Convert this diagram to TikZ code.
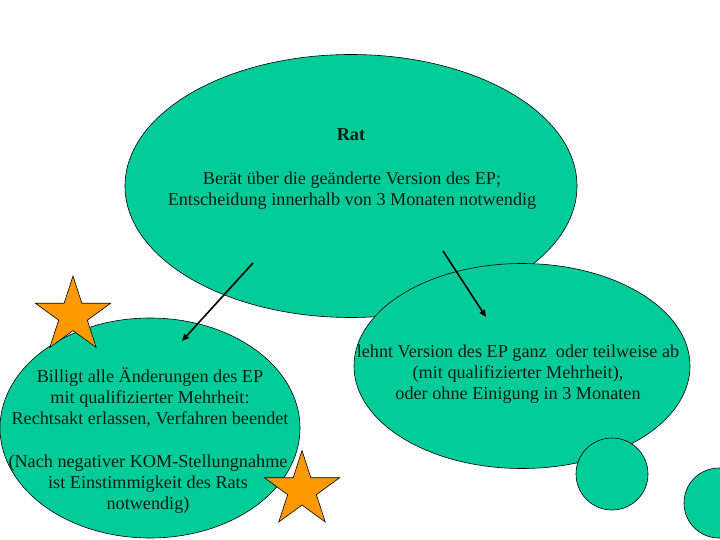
\documentclass[tikz,border=0pt]{standalone}
\usepackage{fontspec}
\setmainfont{Liberation Serif}
\usetikzlibrary{shapes.geometric,arrows.meta}
\definecolor{blobgreen}{RGB}{0,204,153}
\definecolor{starorange}{RGB}{255,153,0}
\definecolor{txtdark}{RGB}{0,30,20}
\tikzset{
  blob/.style={draw=black, line width=0.6pt, fill=blobgreen, inner sep=0pt},
  starshape/.style={star, star points=5, star point ratio=2.618, draw=black, line width=0.6pt, fill=starorange, minimum size=79pt, inner sep=0pt},
  label/.style={text=txtdark, align=center, font=\fontsize{18.2}{20.7}\selectfont, inner sep=0pt},
  flow/.style={draw=black, line width=1.6pt, -{Triangle[length=7pt,width=6pt]}, shorten >=0pt}
}
\begin{document}
\begin{tikzpicture}[x=1pt,y=-1pt]
\useasboundingbox (0,0) rectangle (720,540);
% big ellipse
\node[blob, ellipse, minimum width=452pt, minimum height=263pt] (rat) at (351,186) {};
% left ellipse
\node[blob, ellipse, minimum width=300pt, minimum height=220pt] (billigt) at (150,428) {};
% right ellipse
\node[blob, ellipse, minimum width=336pt, minimum height=205pt] (lehnt) at (522,366) {};
% small circles
\node[blob, circle, minimum size=72pt] (c1) at (612,474) {};
\node[blob, circle, minimum size=70pt] (c2) at (719,503) {};
% stars
\node[starshape] (s1) at (73,315.5) {};
\node[starshape] (s2) at (302,490) {};
% texts
\node[label, font=\fontsize{18.2}{20.7}\selectfont\bfseries] (rattitle) at (351,135) {Rat};
\node[label] (rattext) at (352,190.5) {Berät über die geänderte Version des EP;\\Entscheidung innerhalb von 3 Monaten notwendig};
\node[label] (billtext) at (150,397.5) {Billigt alle Änderungen des EP\\mit qualifizierter Mehrheit:\\Rechtsakt erlassen, Verfahren beendet};
\node[label] (nachtext) at (148,484) {(Nach negativer KOM-Stellungnahme\\ist Einstimmigkeit des Rats\\notwendig)};
\node[label] (lehnttext) at (518,374) {lehnt Version des EP ganz\ \ oder teilweise ab\\(mit qualifizierter Mehrheit),\\oder ohne Einigung in 3 Monaten};
% arrows
\coordinate (a1s) at (253,263);
\coordinate (a1e) at (182,341);
\coordinate (a2s) at (443,251);
\coordinate (a2e) at (486,317);
\draw[flow] (a1s) -- (a1e);
\draw[flow] (a2s) -- (a2e);
\end{tikzpicture}
\end{document}
